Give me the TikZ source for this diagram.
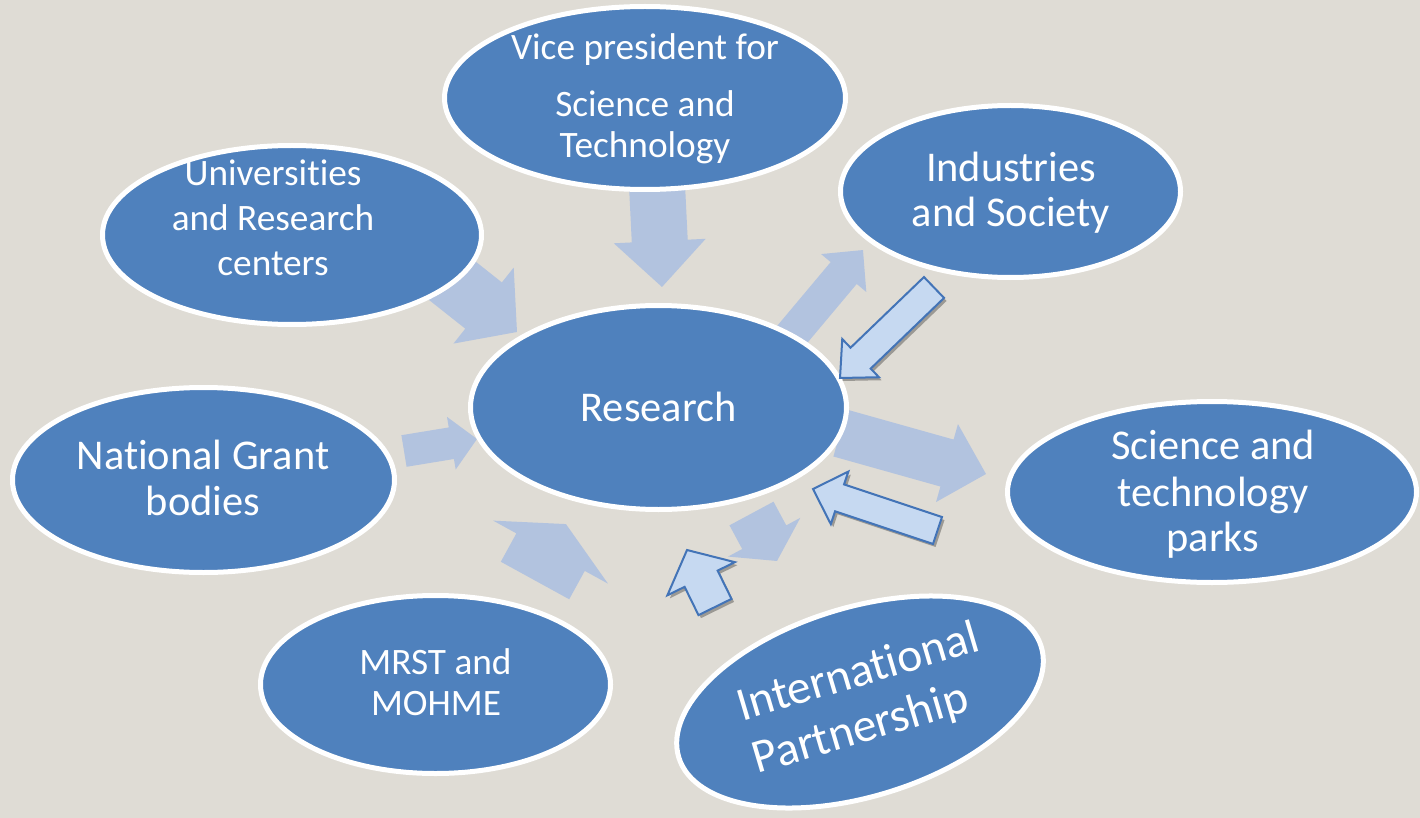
\documentclass[tikz,border=0pt]{standalone}
\usepackage{fontspec}
\setmainfont{Carlito}[Ligatures=NoCommon]
\usetikzlibrary{calc,shapes.geometric,shadows}
\definecolor{bgc}{HTML}{DFDCD5}
\definecolor{ellfill}{HTML}{4F81BD}
\definecolor{fadefill}{HTML}{B2C3DF}
\definecolor{boxfill}{HTML}{C6D9F1}
\definecolor{boxline}{HTML}{4374B7}
\tikzset{
  bubble/.style={ellipse, draw=white, line width=5pt, fill=ellfill, inner sep=0pt, outer sep=0pt},
  lbl/.style={text=white, anchor=base, inner sep=0pt},
  smalltxt/.style={font=\fontsize{37.3}{44}\selectfont},
  bigtxt/.style={font=\fontsize{42.4}{46}\selectfont},
  hugetxt/.style={font=\fontsize{47.5}{55}\selectfont},
  fadearrow/.style={fill=fadefill},
  boldarrow/.style={fill=boxfill, draw=boxline, line width=2pt, line join=miter,
    drop shadow={shadow xshift=2.5pt, shadow yshift=-3pt, opacity=0.3, fill=black}},
}
% #1 style, #2 tail, #3 tip, #4 shaft half width, #5 head half width, #6 head length
\newcommand{\blockarrow}[6]{%
  \path[#1] let \p1=($(#3)-(#2)$), \n1={veclen(\x1,\y1)}, \n2={atan2(\y1,\x1)} in
    [shift={(#2)}, rotate=\n2]
    (0pt,-#4pt) -- ({\n1-#6pt},-#4pt) -- ({\n1-#6pt},-#5pt) -- (\n1,0pt)
    -- ({\n1-#6pt},#5pt) -- ({\n1-#6pt},#4pt) -- (0pt,#4pt) -- cycle;}
\begin{document}
\begin{tikzpicture}[x=1pt,y=-1pt]
\useasboundingbox (0,0) rectangle (1420,818);
\fill[bgc] (0,0) rectangle (1420,818);

% arrow end points
\coordinate (a1t) at (657,185);   \coordinate (a1h) at (662,287);
\coordinate (a2t) at (445,275);   \coordinate (a2h) at (517,332);
\coordinate (a3t) at (785,343);   \coordinate (a3h) at (863,250);
\coordinate (a4t) at (840,433);   \coordinate (a4h) at (986,474);
\coordinate (a5t) at (404,451);   \coordinate (a5h) at (477,439);
\coordinate (a6t) at (535,580.5); \coordinate (a6h) at (566,524);
\coordinate (a7t) at (751.5,513.5); \coordinate (a7h) at (777,561);
\coordinate (a8t) at (715,607);   \coordinate (a8h) at (687,550);
\coordinate (a9t) at (934,287.5); \coordinate (a9h) at (840,378);
\coordinate (a10t) at (937.5,530.5); \coordinate (a10h) at (813,489);

% faded arrows (behind the ellipses)
\blockarrow{fadearrow}{a1t}{a1h}{28}{46}{46}
\blockarrow{fadearrow}{a2t}{a2h}{29.5}{48.5}{42.6}
\blockarrow{fadearrow}{a3t}{a3h}{17}{29.5}{30}
\blockarrow{fadearrow}{a4t}{a4h}{24.4}{40.5}{40.5}
\blockarrow{fadearrow}{a5t}{a5h}{16}{26.7}{26}
\blockarrow{fadearrow}{a6t}{a6h}{39}{65.5}{32}
\blockarrow{fadearrow}{a7t}{a7h}{25}{41}{27}

% ellipses
\node[bubble, minimum width=401pt, minimum height=183pt] (vp) at (645,98) {};
\node[bubble, minimum width=379pt, minimum height=179pt] (uni) at (292,235) {};
\node[bubble, minimum width=340pt, minimum height=172pt] (ind) at (1010.5,191.5) {};
\node[bubble, minimum width=376pt, minimum height=204pt] (res) at (658.5,407.5) {};
\node[bubble, minimum width=382pt, minimum height=185pt] (nat) at (203.5,480) {};
\node[bubble, minimum width=409pt, minimum height=181pt] (park) at (1212,492) {};
\node[bubble, minimum width=350pt, minimum height=178pt] (mrst) at (435.5,684.5) {};
\node[bubble, minimum width=379pt, minimum height=189pt, rotate=17] (intl) at (860,702) {};

% texts
\node[lbl, smalltxt] (vp1) at (645,60) {Vice president for};
\node[lbl, smalltxt] (vp2) at (645,117) {Science and};
\node[lbl, smalltxt] (vp3) at (645,158) {Technology};
\node[lbl, smalltxt] (uni1) at (273,186) {Universities};
\node[lbl, smalltxt] (uni2) at (273,230) {and Research};
\node[lbl, smalltxt] (uni3) at (273,275) {centers};
\node[lbl, bigtxt] (ind1) at (1011,182) {Industries};
\node[lbl, bigtxt] (ind2) at (1011,227) {and Society};
\node[lbl, bigtxt] (res1) at (658.5,421) {Research};
\node[lbl, bigtxt] (nat1) at (203,469) {National Grant};
\node[lbl, bigtxt] (nat2) at (203,515) {bodies};
\node[lbl, bigtxt] (park1) at (1213,459) {Science and};
\node[lbl, bigtxt] (park2) at (1213,506) {technology};
\node[lbl, bigtxt] (park3) at (1213,551) {parks};
\node[lbl, smalltxt] (mrst1) at (435.5,674) {MRST and};
\node[lbl, smalltxt] (mrst2) at (436,715) {MOHME};
\node[text=white, inner sep=0pt, hugetxt, align=left, rotate=16.5] (intltxt) at (866,700)
  {International\\Partnership};

% outlined arrows (on top)
\blockarrow{boldarrow}{a8t}{a8h}{18.4}{37.6}{32}
\blockarrow{boldarrow}{a9t}{a9h}{14.5}{26.5}{28.6}
\blockarrow{boldarrow}{a10t}{a10h}{14.2}{27.7}{28}
\end{tikzpicture}
\end{document}
